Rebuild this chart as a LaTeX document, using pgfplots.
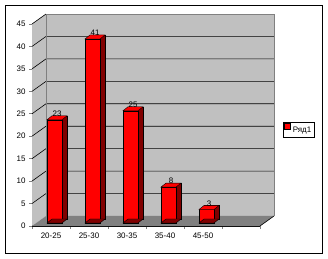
\documentclass[border=0pt]{standalone}
\usepackage{fontspec}
\setmainfont{Liberation Sans}
\usepackage{pgfplots}
\pgfplotsset{compat=1.18}
\definecolor{wallgray}{HTML}{C0C0C0}
\definecolor{floorgray}{HTML}{808080}
\definecolor{darkred}{HTML}{800000}
\pgfdeclareplotmark{topface}{%
  \pgfpathmoveto{\pgfpoint{-7.5bp}{0bp}}%
  \pgfpathlineto{\pgfpoint{7.5bp}{0bp}}%
  \pgfpathlineto{\pgfpoint{12.5bp}{4bp}}%
  \pgfpathlineto{\pgfpoint{-2.5bp}{4bp}}%
  \pgfpathclose
  \pgfusepathqfillstroke}
\begin{document}
\begin{tikzpicture}
\useasboundingbox (0bp,0bp) rectangle (328bp,259bp);
\fill[white] (0bp,0bp) rectangle (328bp,259bp);
\draw[line width=1bp] (5.5bp,5.5bp) rectangle (322.5bp,253.5bp);
\begin{axis}[
  at={(32bp,33bp)}, anchor=south west,
  scale only axis, width=228bp, height=202bp,
  xmin=-0.5, xmax=5.5, ymin=0, ymax=45,
  axis lines*=left, clip=false,
  axis line style={line width=0.6bp},
  xtick={0,1,2,3,4},
  xticklabels={20-25,25-30,30-35,35-40,45-50},
  minor xtick={-0.5,0.5,...,5.5},
  major x tick style={draw=none},
  minor x tick style={line width=0.6bp},
  ytick={0,5,...,45},
  y tick style={line width=0.6bp},
  tick align=outside,
  major tick length=3bp, minor tick length=3bp,
  /pgf/number format/assume math mode=true,
  tick label style={font=\fontsize{8}{9.5}\selectfont},
  legend style={at={(1.101,0.515)}, anchor=north west, draw=black,
     line width=0.5bp, inner sep=1.2bp, font=\fontsize{8}{9}\selectfont,
     legend cell align=left},
]
\fill[wallgray] (axis cs:-0.5,0) -- ([shift={(14bp,10bp)}]axis cs:-0.5,0) -- ([shift={(14bp,10bp)}]axis cs:-0.5,45) -- (axis cs:-0.5,45) -- cycle;
\fill[wallgray] ([shift={(14bp,10bp)}]axis cs:-0.5,0) rectangle ([shift={(14bp,10bp)}]axis cs:5.5,45);
\fill[floorgray] (axis cs:-0.5,0) -- (axis cs:5.5,0) -- ([shift={(14bp,10bp)}]axis cs:5.5,0) -- ([shift={(14bp,10bp)}]axis cs:-0.5,0) -- cycle;
\pgfplotsinvokeforeach{5,10,...,40}{
  \draw[black, line width=0.6bp] (axis cs:-0.5,#1) -- ([shift={(14bp,10bp)}]axis cs:-0.5,#1) -- ([shift={(14bp,10bp)}]axis cs:5.5,#1);
}
\draw[black, line width=0.6bp] (axis cs:-0.5,45) -- ([shift={(14bp,10bp)}]axis cs:-0.5,45);
\draw[floorgray, line width=0.6bp] ([shift={(14bp,10bp)}]axis cs:-0.5,0) -- ([shift={(14bp,10bp)}]axis cs:-0.5,45) -- ([shift={(14bp,10bp)}]axis cs:5.5,45) -- ([shift={(14bp,10bp)}]axis cs:5.5,0);
\draw[black, line width=0.6bp] (axis cs:5.5,0) -- ([shift={(14bp,10bp)}]axis cs:5.5,0);

\addplot[ybar, bar width=15bp, bar shift=0pt, fill=darkred, draw=black, line width=0.4bp, xshift=8.5bp, yshift=7bp, forget plot]
  coordinates {(0,23) (1,41) (2,25) (3,8) (4,3)};
\addplot[only marks, mark=topface, mark options={fill=darkred, draw=black, line width=0.4bp}, xshift=3.5bp, yshift=3bp, forget plot]
  coordinates {(0,0) (1,0) (2,0) (3,0) (4,0)};
\addplot[ybar, bar width=15bp, bar shift=0pt, fill=red, draw=black, line width=0.4bp, xshift=3.5bp, yshift=3bp,
  legend image code/.code={\draw[fill=red, draw=black, line width=0.4bp] (0bp,-2.5bp) rectangle (6bp,3.5bp);}]
  coordinates {(0,23) (1,41) (2,25) (3,8) (4,3)};
\addlegendentry{Ряд1}
\addplot[only marks, mark=topface, mark options={fill=red, draw=black, line width=0.4bp}, xshift=3.5bp, yshift=3bp, forget plot,
  nodes near coords,
  every node near coord/.append style={anchor=base, xshift=2.5bp, yshift=3.2bp, inner sep=0pt, font=\fontsize{8}{9.5}\selectfont, /pgf/number format/assume math mode=true}]
  coordinates {(0,23) (1,41) (2,25) (3,8) (4,3)};
\end{axis}
\end{tikzpicture}
\end{document}
